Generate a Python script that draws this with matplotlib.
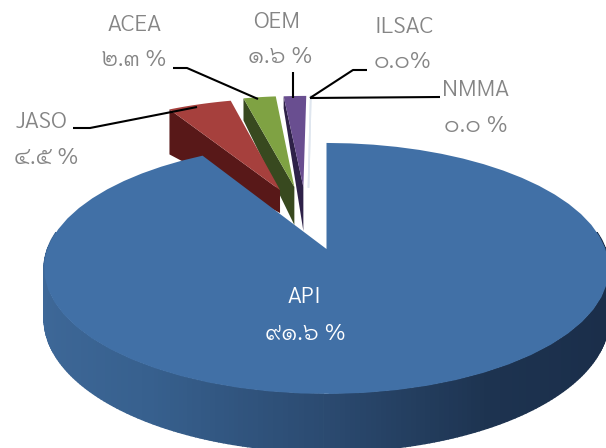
import numpy as np
import matplotlib
matplotlib.use('Agg')
import matplotlib.pyplot as plt

plt.rcParams['font.family'] = ['Sarabun', 'Noto Sans Thai', 'DejaVu Sans']

# Data, clockwise from twelve o'clock
categories = ['API', 'JASO', 'ACEA', 'OEM', 'ILSAC', 'NMMA']
values = [91.6, 4.5, 2.3, 1.6, 0.0, 0.0]
value_labels = ['๙๑.๖ %', '๔.๕ %', '๒.๓ %', '๑.๖ %', '๐.๐%', '๐.๐ %']

top_colors = {'API': '#4170a6', 'JASO': '#a6403d', 'ACEA': '#7fa243', 'OEM': '#694e90'}
side_colors = {'JASO': '#581818', 'ACEA': '#38491f', 'OEM': '#2e2148'}

# Perspective of the disc, in image pixels
CX, CY = 326.5, 249
RX, RY = 279, 122.5
PERSP = 0.155
DEPTH = 49

# explode offset (u, v) and side depth (outer, tip) of the pulled out slices
explode = {'JASO': (-0.18, 0.52), 'ACEA': (-0.125, 0.549), 'OEM': (-0.09, 0.55),
           'ILSAC': (-0.07, 0.55), 'NMMA': (-0.07, 0.55)}
slice_depth = {'JASO': (45, 23), 'ACEA': (22, 38), 'OEM': (12, 44)}
draw_order = ['NMMA', 'ILSAC', 'OEM', 'ACEA', 'JASO']


def project(u, v, drop=0.0):
    u, v = np.asarray(u, float), np.asarray(v, float)
    w = 1 + PERSP * v
    return CX + RX * u / w, CY - RY * v / w + drop


def wedge_uv(a0, a1, off=(0, 0)):
    t = np.radians(np.linspace(a0, a1, 60))
    u = np.r_[off[0], off[0] + np.sin(t)]
    v = np.r_[off[1], off[1] + np.cos(t)]
    return u, v


fig = plt.figure(figsize=(6.06, 4.48), dpi=100)
ax = fig.add_axes([0, 0, 1, 1])
ax.set_xlim(0, 606)
ax.set_ylim(448, 0)
ax.axis('off')

angles = np.cumsum([0] + values) * 3.6

# pulled out slices
for name in draw_order:
    i = categories.index(name)
    a0, a1 = angles[i], angles[i + 1]
    off = explode[name]
    if values[i] == 0:
        x, y = project([off[0], off[0]], [off[1], off[1] + 1])
        ax.plot(x, y, color='#dfe6ef', lw=1.2, zorder=2)
        continue
    d_out, d_tip = slice_depth[name]
    # radial wall on the left side of the slice
    tx, ty = project(off[0], off[1])
    ox, oy = project(off[0] + np.sin(np.radians(a0)), off[1] + np.cos(np.radians(a0)))
    ax.fill([tx, ox, ox, tx], [ty, oy, oy + d_out, ty + d_tip], color=side_colors[name], lw=0, zorder=2)
    u, v = wedge_uv(a0, a1, off)
    x, y = project(u, v)
    ax.fill(x, y, color=top_colors[name], lw=0, zorder=2)

# API side wall, shaded along the rim
api_end = angles[1]
rim = np.radians(np.linspace(82, 278, 220))
shade_pos = [-1.0, -0.55, 0.0, 0.5, 1.0]
shade_col = np.array([[0x3e, 0x68, 0x98], [0x37, 0x60, 0x8e], [0x2b, 0x4a, 0x70], [0x1d, 0x33, 0x50], [0x1a, 0x2d, 0x49]]) / 255
for t0, t1 in zip(rim[:-1], rim[1:]):
    u = np.array([np.sin(t0), np.sin(t1), np.sin(t1), np.sin(t0)])
    v = np.array([np.cos(t0), np.cos(t1), np.cos(t1), np.cos(t0)])
    w = 1 + PERSP * v
    x, y = project(u, v)
    y = y + np.array([0, 0, 1, 1]) * DEPTH / w
    um = (np.sin(t0) + np.sin(t1)) / 2
    col = [np.interp(um, shade_pos, shade_col[:, k]) for k in range(3)]
    ax.fill(x, y, color=col, lw=1.0, ec=col, zorder=3)

# API top face
u, v = wedge_uv(0, api_end)
x, y = project(u, v)
ax.fill(x, y, color=top_colors['API'], lw=0, zorder=4)

# Labels
grey = '#858585'
name_pos = [(305, 297), (42, 122), (135, 25), (277, 22), (404, 27), (476, 90)]
value_pos = [(305, 334), (46, 158), (134, 60), (280, 57), (402, 62), (476, 126)]
for i, name in enumerate(categories):
    col = 'white' if name == 'API' else grey
    ax.text(*name_pos[i], name, color=col, fontsize=17, weight=300, ha='center', va='center', zorder=6)
    ax.text(*value_pos[i], value_labels[i], color=col, fontsize=17, weight=300, ha='center', va='center', zorder=6)

# Leader lines
leaders = [([73, 90, 197], [128, 128, 107]),
           ([173, 187, 258], [68, 68, 99]),
           ([293, 293], [72, 98]),
           ([367, 353, 310], [70, 70, 98]),
           ([440, 310], [97, 98])]
for lx, ly in leaders:
    ax.plot(lx, ly, color='black', lw=1.5, zorder=5, solid_capstyle='butt')

fig.savefig('out.png', dpi=100)
